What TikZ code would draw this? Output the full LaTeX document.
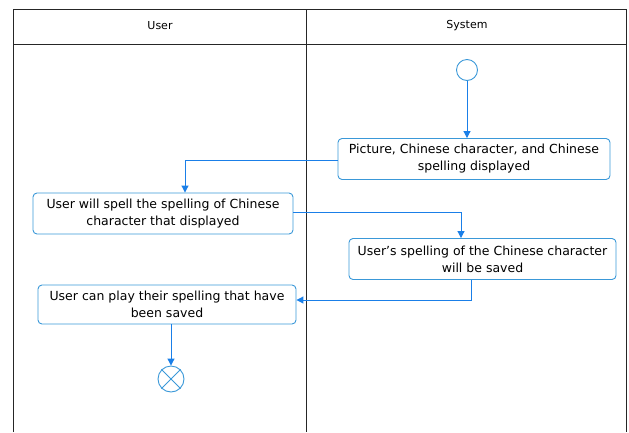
\documentclass[tikz,border=0pt]{standalone}
\usepackage{fontspec}
\setmainfont{DejaVu Sans}
\usetikzlibrary{arrows.meta,positioning}
\definecolor{boxc}{HTML}{3A98D8}
\definecolor{arrc}{HTML}{1A7FE8}
\tikzset{
  act/.style={draw=boxc, line width=0.9pt, rounded corners=4pt, align=center, font=\fontsize{12.5}{17}\selectfont, inner sep=0pt, minimum height=41pt},
  flow/.style={draw=arrc, line width=1pt, -{Triangle[length=7pt,width=7pt]}},
  lane/.style={draw=black!85, line width=0.9pt},
}
\begin{document}
\begin{tikzpicture}[x=1pt,y=-1pt]
\useasboundingbox (0,0) rectangle (629,432);
% swimlanes
\draw[lane] (13,432) -- (13,9) -- (626,9) -- (626,432);
\draw[lane] (13,44) -- (626,44);
\draw[lane] (306,9) -- (306,432);
\node[font=\fontsize{11}{13}\selectfont] (hu) at (160,26) {User};
\node[font=\fontsize{11}{13}\selectfont] (hs) at (467,26) {System};
% nodes
\node[circle, draw=boxc, line width=0.9pt, minimum size=21pt, inner sep=0pt] (start) at (467,70) {};
\node[act, minimum width=272pt] (b1) at (474,159) {Picture, Chinese character, and Chinese\\spelling displayed};
\node[act, minimum width=260pt] (b2) at (163,213.5) {User will spell the spelling of Chinese\\character that displayed};
\node[act, minimum width=267pt] (b3) at (482.5,259) {User's spelling of the Chinese character\\will be saved};
\node[act, minimum width=258pt, minimum height=39pt] (b4) at (167,304.5) {User can play their spelling that have\\been saved};
\node[circle, draw=boxc, line width=0.9pt, minimum size=26pt, inner sep=0pt] (end) at (171,379) {};
\draw[boxc, line width=0.9pt] (end.north west) -- (end.south east) (end.north east) -- (end.south west);
% connectors
\draw[flow] (start) -- (b1.north -| start);
\coordinate (c1) at (185,160);
\draw[flow] (b1.west |- c1) -| (b2.north -| c1);
\coordinate (c2) at (461,212);
\draw[flow] (b2.east |- c2) -| (b3.north -| c2);
\coordinate (c3) at (471,300);
\draw[flow] (b3.south -| c3) |- (b4.east |- c3);
\draw[flow] (b4.south -| end) -- (end);
\end{tikzpicture}
\end{document}
